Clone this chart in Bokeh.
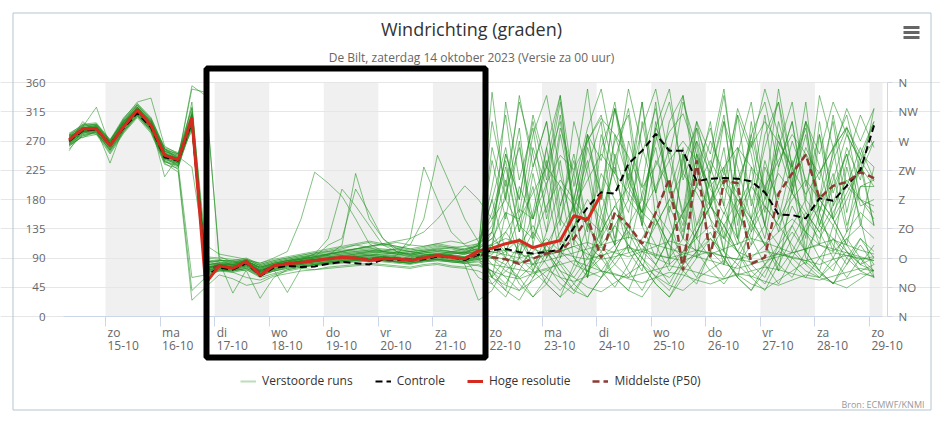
from bokeh.plotting import figure
from bokeh.models import (Range1d, LinearAxis, FixedTicker, Label, BoxAnnotation,
                          Legend, LegendItem, Grid)
from bokeh.embed import file_html
from bokeh.resources import INLINE

# ---------------- data ----------------
lead_hours = list(range(6, 361, 6))          # ECMWF 00 UTC run, 6-hourly steps
utc_offset_h = 2                              # CEST
x_days = [(h + utc_offset_h) / 24 for h in lead_hours]   # days since 14-10 00:00 local

tick_days = [1, 2, 3, 4, 5, 6, 7, 8, 9, 10, 11, 12, 13, 14, 15]
day_names = ["zo", "ma", "di", "wo", "do", "vr", "za", "zo", "ma", "di", "wo", "do", "vr", "za", "zo"]
day_dates = ["15-10", "16-10", "17-10", "18-10", "19-10", "20-10", "21-10", "22-10",
             "23-10", "24-10", "25-10", "26-10", "27-10", "28-10", "29-10"]
band_starts = [1, 3, 5, 7, 9, 11, 13, 15]

deg_ticks = [0, 45, 90, 135, 180, 225, 270, 315, 360]
compass = ["N", "NO", "O", "ZO", "Z", "ZW", "W", "NW", "N"]

hres = [272, 289, 289, 263, 292, 318, 294, 248, 241, 306, 51, 78, 74, 85, 63, 78, 81, 83, 86, 89,
        91, 90, 86, 89, 89, 86, 90, 94, 91, 89, 101, 105, 112, 117, 106, 112, 117, 155, 149, 188]

control = [270, 286, 288, 265, 290, 313, 291, 245, 240, 300, 62, 75, 72, 82, 62, 75, 78, 76, 77, 81,
           84, 82, 80, 88, 87, 86, 88, 92, 91, 87, 95, 102, 104, 99, 97, 99, 103, 137, 168, 191,
           189, 235, 255, 281, 255, 255, 208, 212, 213, 212, 208, 191, 157, 156, 151, 182, 178, 201, 225, 294]

median = [271, 287, 289, 264, 293, 317, 294, 249, 241, 302, 72, 78, 75, 82, 68, 78, 82, 84, 86, 89,
          91, 90, 88, 90, 89, 88, 91, 93, 92, 89, 96, 91, 88, 81, 89, 97, 101, 120, 152, 90,
          160, 140, 112, 160, 212, 71, 240, 91, 209, 205, 81, 91, 189, 220, 249, 182, 201, 207, 222, 213]

m01 = [270, 288, 292, 266, 296, 322, 298, 250, 236, 298, 72, 80,
       76, 86, 68, 79, 83, 85, 88, 91, 94, 92, 89, 91, 90, 87, 91, 95, 93, 90, 99,
       112, 130, 165, 150, 205, 248, 226, 270, 305, 280, 246, 198, 232, 284, 312, 250, 196, 158, 210, 262,
       300, 268, 228, 188, 222, 258, 292, 240, 208]
m02 = [265, 282, 286, 258, 288, 312, 290, 244, 232, 330, 88, 84,
       80, 84, 72, 76, 80, 82, 84, 86, 88, 86, 84, 86, 85, 84, 86, 88, 86, 84, 92,
       98, 102, 96, 90, 94, 100, 108, 96, 88, 92, 98, 104, 96, 90, 86, 94, 100, 92, 88, 84,
       90, 96, 92, 86, 80, 88, 94, 90, 86]
m03 = [280, 292, 322, 262, 300, 325, 305, 258, 244, 355, 340, 92,
       84, 80, 76, 82, 86, 90, 96, 100, 104, 110, 106, 100, 98, 96, 100, 104, 100, 98, 110,
       140, 250, 180, 300, 210, 330, 160, 270, 310, 220, 350, 260, 190, 300, 340, 230, 290, 200, 320, 260,
       350, 280, 210, 300, 250, 330, 280, 240, 300]
m04 = [268, 284, 288, 236, 292, 315, 288, 240, 226, 40, 60, 72,
       68, 60, 56, 64, 70, 74, 72, 76, 78, 80, 82, 80, 78, 76, 80, 82, 78, 76, 80,
       70, 62, 58, 66, 72, 60, 54, 62, 70, 66, 58, 52, 60, 68, 64, 56, 50, 58, 66, 62,
       54, 48, 56, 64, 60, 52, 58, 66, 62]
m05 = [274, 290, 294, 270, 304, 330, 336, 262, 250, 320, 110, 96,
       92, 88, 82, 90, 100, 150, 222, 205, 185, 150, 112, 100, 96, 92, 94, 96, 98, 100, 104,
       120, 160, 150, 190, 230, 200, 170, 210, 250, 220, 190, 160, 200, 240, 270, 240, 200, 230, 260, 230,
       200, 240, 280, 250, 220, 260, 290, 250, 230]
m06 = [262, 278, 284, 254, 284, 308, 284, 236, 222, 25, 45, 64,
       58, 48, 52, 62, 66, 70, 72, 74, 76, 78, 80, 78, 76, 74, 78, 80, 76, 74, 70,
       60, 48, 40, 55, 70, 85, 60, 45, 38, 52, 66, 80, 62, 48, 40, 58, 72, 86, 64, 50,
       42, 56, 70, 84, 66, 52, 44, 58, 72]
m07 = [278, 286, 280, 262, 296, 318, 296, 255, 246, 285, 75, 78,
       74, 82, 66, 76, 82, 84, 90, 96, 100, 104, 108, 110, 114, 110, 108, 112, 116, 112, 120,
       150, 180, 140, 120, 170, 210, 180, 150, 130, 170, 200, 160, 140, 180, 220, 190, 150, 120, 160, 200,
       170, 140, 180, 210, 180, 150, 190, 230, 200]
m08 = [270, 296, 298, 272, 300, 318, 300, 258, 240, 310, 68, 76,
       78, 88, 70, 80, 86, 88, 92, 110, 120, 196, 160, 120, 100, 94, 92, 90, 96, 98, 100,
       90, 80, 110, 140, 100, 70, 60, 90, 130, 170, 140, 100, 80, 120, 160, 200, 170, 130, 100, 140,
       180, 220, 190, 150, 120, 160, 200, 180, 160]
m09 = [266, 286, 290, 264, 290, 314, 292, 246, 240, 300, 62, 70,
       72, 78, 64, 70, 76, 80, 82, 84, 86, 88, 90, 92, 94, 120, 230, 180, 130, 110, 100,
       110, 90, 80, 100, 120, 100, 80, 70, 90, 110, 130, 110, 90, 80, 100, 120, 140, 120, 100, 90,
       110, 130, 150, 130, 110, 100, 120, 140, 120]
m10 = [276, 290, 286, 266, 298, 320, 294, 250, 244, 305, 80, 82,
       80, 84, 76, 82, 86, 88, 90, 92, 94, 96, 98, 100, 104, 110, 150, 248, 200, 150, 115,
       60, 40, 120, 90, 50, 30, 80, 140, 100, 60, 40, 90, 150, 110, 70, 50, 100, 160, 120, 80,
       60, 110, 170, 130, 90, 70, 120, 90, 70]
m11 = [272, 284, 292, 262, 295, 322, 302, 252, 238, 312, 78, 84,
       36, 72, 62, 72, 78, 82, 86, 88, 92, 96, 100, 102, 104, 100, 96, 94, 92, 90, 88,
       95, 130, 100, 80, 110, 150, 120, 90, 70, 100, 140, 180, 150, 110, 90, 130, 170, 210, 180, 140,
       110, 150, 190, 160, 130, 170, 210, 180, 150]
m12 = [268, 300, 282, 256, 286, 310, 286, 238, 230, 295, 66, 74,
       74, 70, 28, 60, 72, 76, 80, 82, 84, 86, 88, 86, 84, 82, 86, 88, 84, 82, 78,
       70, 40, 25, 60, 100, 70, 40, 30, 60, 90, 110, 80, 50, 30, 70, 100, 130, 90, 60, 40,
       80, 110, 140, 100, 70, 50, 90, 120, 90]
m13 = [282, 294, 296, 272, 306, 328, 306, 260, 252, 322, 90, 88,
       78, 80, 70, 72, 37, 74, 80, 84, 86, 88, 90, 92, 90, 88, 92, 94, 92, 90, 60,
       50, 30, 70, 110, 80, 50, 35, 70, 120, 160, 130, 90, 60, 40, 80, 130, 170, 140, 100, 70,
       50, 90, 140, 180, 150, 110, 80, 120, 100]
m14 = [264, 276, 280, 250, 282, 306, 282, 234, 228, 310, 86, 80,
       82, 86, 74, 80, 84, 86, 90, 92, 94, 96, 98, 96, 94, 92, 96, 98, 96, 80, 25,
       40, 80, 60, 30, 50, 90, 130, 100, 70, 45, 80, 120, 160, 130, 90, 60, 100, 140, 180, 150,
       110, 80, 60, 100, 140, 120, 90, 70, 80]
m15 = [276, 292, 296, 270, 302, 324, 300, 256, 250, 300, 74, 80,
       80, 82, 72, 80, 84, 88, 92, 96, 100, 104, 108, 112, 116, 120, 130, 150, 175, 201, 180,
       150, 230, 130, 260, 200, 310, 180, 280, 240, 330, 210, 160, 290, 250, 340, 200, 270, 220, 310, 170,
       260, 330, 230, 290, 180, 250, 320, 270, 320]
m16 = [270, 288, 290, 264, 294, 316, 296, 248, 244, 292, 76, 78,
       74, 78, 68, 76, 82, 86, 90, 94, 110, 220, 150, 120, 104, 100, 96, 94, 96, 98, 104,
       180, 260, 150, 230, 300, 170, 240, 130, 280, 210, 160, 250, 320, 190, 140, 270, 220, 300, 160, 110,
       230, 180, 270, 210, 140, 200, 250, 170, 180]
m17 = [272, 290, 292, 266, 296, 318, 292, 248, 240, 300, 70, 76,
       78, 82, 72, 78, 84, 88, 96, 120, 196, 170, 140, 110, 100, 96, 94, 96, 100, 104, 108,
       120, 100, 80, 60, 90, 130, 170, 140, 110, 80, 60, 100, 140, 180, 150, 120, 90, 60, 90, 130,
       170, 140, 110, 80, 60, 90, 130, 160, 140]
m18 = [268, 286, 288, 262, 292, 316, 294, 250, 242, 296, 72, 80,
       76, 80, 70, 78, 82, 84, 86, 88, 90, 92, 94, 96, 98, 100, 102, 104, 106, 108, 112,
       130, 210, 95, 160, 260, 140, 300, 220, 110, 250, 180, 330, 150, 90, 240, 290, 170, 260, 120, 200,
       310, 150, 240, 100, 280, 190, 250, 140, 230]
m19 = [255, 288, 288, 264, 294, 318, 296, 250, 240, 304, 76, 78,
       76, 84, 66, 78, 80, 82, 86, 88, 90, 92, 94, 92, 90, 88, 92, 96, 94, 90, 100,
       345, 180, 290, 120, 260, 340, 150, 230, 300, 110, 270, 200, 330, 160, 250, 90, 220, 310, 140, 280,
       190, 350, 230, 120, 300, 170, 260, 210, 320]
m20 = [266, 284, 290, 262, 292, 314, 290, 246, 238, 298, 70, 74,
       72, 76, 66, 72, 78, 80, 82, 84, 86, 88, 90, 88, 86, 84, 88, 90, 88, 86, 94,
       100, 330, 210, 290, 150, 240, 110, 280, 180, 320, 230, 140, 300, 190, 260, 120, 230, 170, 310, 250,
       140, 280, 200, 330, 160, 240, 290, 180, 170]
m21 = [278, 292, 290, 268, 300, 322, 300, 254, 246, 308, 82, 86,
       84, 88, 78, 84, 88, 92, 96, 98, 100, 102, 104, 102, 100, 98, 102, 106, 104, 100, 108,
       110, 120, 112, 104, 96, 100, 108, 114, 106, 98, 92, 100, 108, 116, 110, 102, 96, 104, 112, 120,
       114, 106, 98, 104, 112, 118, 110, 102, 96]
m22 = [258, 280, 284, 256, 286, 310, 288, 242, 234, 292, 64, 72,
       70, 74, 62, 70, 74, 78, 80, 82, 84, 86, 88, 86, 84, 82, 84, 86, 84, 82, 86,
       80, 76, 72, 68, 74, 80, 86, 78, 70, 64, 60, 66, 72, 78, 74, 68, 62, 58, 64, 70,
       76, 72, 66, 60, 56, 62, 68, 74, 70]
m23 = [270, 286, 288, 262, 292, 316, 292, 246, 238, 300, 74, 78,
       78, 82, 70, 78, 82, 86, 88, 90, 92, 94, 96, 94, 92, 90, 94, 96, 94, 92, 98,
       60, 90, 50, 30, 60, 100, 140, 180, 150, 110, 70, 40, 80, 120, 160, 200, 240, 200, 160, 120,
       80, 50, 90, 130, 170, 140, 100, 70, 60]
m24 = [276, 290, 294, 268, 300, 322, 298, 252, 244, 302, 80, 80,
       80, 86, 74, 80, 86, 88, 92, 94, 96, 98, 100, 98, 96, 94, 98, 100, 98, 96, 102,
       200, 310, 160, 280, 340, 220, 130, 260, 190, 320, 240, 150, 290, 350, 210, 270, 170, 230, 120, 300,
       180, 260, 330, 200, 280, 150, 240, 310, 260]
m25 = [264, 282, 286, 260, 288, 312, 290, 244, 236, 296, 70, 76,
       74, 78, 70, 74, 78, 80, 82, 84, 86, 88, 88, 86, 84, 82, 86, 88, 86, 84, 88,
       90, 100, 120, 80, 60, 40, 70, 110, 90, 60, 40, 30, 60, 90, 120, 100, 70, 50, 80, 110,
       140, 110, 80, 60, 90, 120, 100, 80, 90]
m26 = [280, 275, 286, 264, 298, 320, 296, 254, 248, 315, 84, 86,
       86, 82, 80, 86, 90, 94, 98, 102, 106, 110, 114, 110, 106, 102, 106, 110, 106, 102, 110,
       130, 90, 200, 150, 240, 110, 170, 60, 190, 120, 230, 160, 280, 200, 130, 250, 100, 80, 170, 210,
       140, 260, 190, 300, 230, 150, 110, 200, 210]
m27 = [272, 288, 290, 264, 296, 318, 294, 250, 240, 302, 74, 80,
       80, 84, 76, 80, 84, 88, 92, 96, 100, 104, 108, 112, 108, 104, 100, 96, 92, 96, 100,
       92, 88, 84, 80, 86, 92, 98, 104, 110, 116, 122, 116, 110, 104, 98, 92, 86, 80, 74, 80,
       86, 92, 98, 104, 110, 104, 98, 92, 86]
m28 = [268, 284, 286, 260, 290, 314, 290, 244, 236, 294, 68, 74,
       72, 76, 68, 74, 78, 80, 84, 86, 88, 90, 92, 90, 88, 86, 90, 92, 90, 88, 92,
       60, 160, 90, 220, 130, 280, 170, 60, 140, 240, 100, 190, 260, 150, 80, 210, 300, 170, 110, 230,
       140, 70, 200, 280, 160, 100, 230, 150, 60]
m29 = [274, 286, 292, 266, 294, 320, 298, 252, 242, 306, 76, 82,
       82, 86, 74, 82, 86, 90, 94, 96, 98, 100, 102, 100, 98, 96, 100, 102, 100, 98, 104,
       300, 200, 330, 250, 160, 290, 220, 350, 180, 270, 310, 140, 240, 200, 330, 260, 170, 300, 230, 150,
       280, 330, 190, 260, 210, 300, 160, 250, 300]
m30 = [266, 282, 288, 258, 290, 312, 288, 242, 234, 298, 68, 72,
       70, 74, 64, 70, 74, 78, 80, 82, 84, 86, 88, 86, 84, 82, 86, 88, 86, 84, 90,
       50, 70, 90, 70, 50, 30, 50, 80, 110, 140, 110, 80, 50, 30, 60, 90, 120, 90, 60, 40,
       70, 100, 130, 100, 70, 50, 80, 110, 80]
m31 = [278, 294, 296, 270, 302, 326, 304, 258, 248, 310, 84, 86,
       86, 90, 80, 86, 90, 94, 98, 100, 102, 104, 106, 104, 102, 100, 104, 108, 106, 102, 110,
       160, 240, 130, 200, 90, 170, 250, 140, 220, 180, 100, 70, 160, 210, 120, 230, 150, 80, 190, 130,
       240, 170, 100, 80, 160, 220, 130, 240, 140]
m32 = [270, 286, 290, 262, 294, 316, 294, 248, 240, 300, 72, 78,
       76, 80, 70, 76, 80, 84, 86, 88, 90, 92, 94, 92, 90, 88, 92, 94, 92, 90, 96,
       240, 150, 270, 110, 200, 90, 180, 280, 160, 230, 120, 300, 190, 80, 250, 140, 210, 100, 260, 180,
       120, 230, 300, 170, 110, 260, 140, 200, 200]
m33 = [276, 288, 286, 266, 298, 320, 296, 215, 246, 230, 92, 90,
       88, 86, 82, 88, 92, 96, 100, 104, 108, 112, 116, 112, 108, 104, 108, 112, 108, 104, 112,
       180, 100, 150, 70, 130, 200, 90, 60, 160, 110, 220, 140, 90, 170, 120, 250, 180, 100, 60, 150,
       200, 130, 210, 90, 70, 140, 180, 230, 140]
m34 = [262, 278, 282, 252, 284, 308, 286, 238, 232, 60, 64, 70,
       68, 72, 60, 66, 72, 76, 78, 80, 82, 84, 86, 84, 82, 80, 84, 86, 84, 82, 84,
       70, 50, 90, 130, 100, 60, 40, 70, 100, 140, 180, 150, 110, 70, 100, 140, 180, 220, 190, 150,
       110, 70, 100, 140, 180, 150, 110, 80, 110]
m35 = [272, 290, 294, 268, 298, 322, 300, 254, 244, 350, 345, 88,
       82, 86, 76, 82, 86, 90, 92, 94, 96, 98, 100, 98, 96, 94, 98, 100, 98, 96, 100,
       90, 70, 60, 80, 100, 120, 90, 70, 60, 80, 110, 90, 70, 60, 80, 100, 120, 100, 80, 60,
       80, 100, 90, 70, 60, 80, 100, 80, 70]
m36 = [268, 284, 288, 262, 292, 316, 292, 246, 238, 298, 72, 76,
       74, 78, 70, 76, 80, 82, 84, 88, 90, 92, 94, 92, 90, 88, 90, 92, 90, 88, 92,
       130, 250, 180, 310, 230, 340, 200, 290, 350, 240, 320, 180, 270, 330, 220, 300, 250, 350, 190, 280,
       330, 230, 300, 180, 340, 260, 310, 220, 270]
m37 = [280, 296, 292, 270, 304, 326, 302, 258, 250, 312, 80, 82,
       84, 88, 78, 84, 88, 92, 94, 96, 98, 100, 102, 100, 98, 96, 100, 102, 100, 98, 106,
       80, 60, 40, 70, 110, 80, 50, 30, 60, 100, 140, 110, 80, 50, 90, 130, 170, 140, 100, 60,
       40, 80, 120, 160, 130, 90, 60, 90, 60]
m38 = [264, 280, 284, 256, 286, 310, 286, 240, 232, 290, 66, 72,
       70, 74, 66, 72, 76, 78, 80, 82, 84, 86, 88, 86, 84, 82, 86, 88, 86, 84, 88,
       110, 190, 260, 150, 230, 300, 170, 240, 120, 280, 210, 330, 190, 260, 150, 290, 230, 340, 200, 270,
       160, 300, 220, 250, 180, 310, 200, 260, 210]
m39 = [274, 288, 290, 266, 296, 318, 296, 250, 242, 304, 76, 80,
       78, 82, 72, 78, 82, 86, 88, 90, 92, 94, 96, 94, 92, 90, 94, 96, 94, 92, 98,
       100, 95, 90, 96, 102, 98, 92, 88, 94, 100, 106, 100, 94, 90, 96, 102, 98, 92, 88, 94,
       100, 96, 90, 86, 92, 98, 94, 88, 92]
m40 = [270, 284, 288, 260, 290, 314, 290, 244, 236, 296, 70, 76,
       76, 80, 68, 74, 78, 82, 84, 86, 88, 90, 92, 90, 88, 86, 88, 90, 88, 86, 90,
       260, 180, 340, 230, 300, 150, 220, 110, 260, 320, 200, 290, 350, 240, 160, 300, 210, 120, 250, 330,
       190, 270, 230, 300, 140, 210, 280, 240, 270]

members = [m01, m02, m03, m04, m05, m06, m07, m08, m09, m10, m11, m12, m13, m14, m15, m16, m17, m18, m19, m20,
           m21, m22, m23, m24, m25, m26, m27, m28, m29, m30, m31, m32, m33, m34, m35, m36, m37, m38, m39, m40]
for k, m in enumerate(members):
    assert len(m) == len(x_days), (k + 1, len(m))

# ---------------- layout (pixels) ----------------
W, H = 940, 418                    # canvas = frame (no side panels)
PX_DAY = 54.57                     # pixels per day
DAY1_PX = 105                      # pixel of 15-10 00:00
ZERO_PX, TOP_PX = 316, 82          # pixel rows of 0 and 360 degrees
DEG_PX = 360 / (ZERO_PX - TOP_PX)


def day_at(px):
    return 1 + (px - DAY1_PX) / PX_DAY


def sy(py):                        # screen y (from frame bottom) for a pixel row
    return H - py


x_lo, x_hi = day_at(63), day_at(882)          # plot area
FONT = "Open Sans"

p = figure(width=W, height=H, min_border=0,
           x_range=Range1d(day_at(0), day_at(W)),
           y_range=Range1d((ZERO_PX - H) * DEG_PX, ZERO_PX * DEG_PX),
           x_axis_location=None, y_axis_location=None, title=None,
           output_backend="svg", toolbar_location=None,
           background_fill_color="white", border_fill_color="white")
p.outline_line_color = None
for g in p.grid:
    g.visible = False

# alternating day bands
for s in band_starts:
    p.add_layout(BoxAnnotation(left=s, right=min(s + 1, x_hi), bottom=deg_ticks[0], top=deg_ticks[-1],
                               fill_color="#f0f0f0", fill_alpha=1.0, line_color=None, level="image"))

p.add_layout(Grid(dimension=1, ticker=FixedTicker(ticks=deg_ticks), bounds=(x_lo, x_hi),
                  grid_line_color="#e6e6e6", level="underlay"))

# left axis
yl = LinearAxis(ticker=FixedTicker(ticks=deg_ticks), fixed_location=x_lo, bounds=(0, 360))
yl.axis_line_color = None
yl.major_tick_line_color = None
yl.minor_tick_line_color = None
yl.major_label_standoff = 12
yl.major_label_text_font = FONT
yl.major_label_text_font_size = "11.5px"
yl.major_label_text_color = "#666666"
p.add_layout(yl, "left")

# right axis (compass)
yr = LinearAxis(ticker=FixedTicker(ticks=deg_ticks), fixed_location=day_at(887), bounds=(0, 360),
                major_label_overrides={t: c for t, c in zip(deg_ticks, compass)})
yr.axis_line_color = "#ccd6eb"
yr.major_tick_line_color = "#ccd6eb"
yr.major_tick_in = 0
yr.major_tick_out = 5
yr.minor_tick_line_color = None
yr.major_label_standoff = 6
yr.major_label_text_font = FONT
yr.major_label_text_font_size = "11.5px"
yr.major_label_text_color = "#666666"
p.add_layout(yr, "right")

# x axis: tick marks, labels as left-aligned labels
xa = LinearAxis(ticker=FixedTicker(ticks=tick_days), fixed_location=0, bounds=(x_lo, x_hi),
                major_label_overrides={t: "" for t in tick_days})
xa.major_label_text_font_size = "0px"
xa.axis_line_color = "#ccd6eb"
xa.major_tick_line_color = "#ccd6eb"
xa.major_tick_in = 0
xa.major_tick_out = 10
xa.minor_tick_line_color = None
p.add_layout(xa, "below")

for pos, dn, dt in zip(tick_days, day_names, day_dates):
    p.add_layout(Label(x=pos, y=sy(332), x_units="data", y_units="screen", x_offset=2, text=dn,
                       text_align="left", text_baseline="middle", text_font=FONT,
                       text_font_size="12px", text_color="#666666"))
    p.add_layout(Label(x=pos, y=sy(345), x_units="data", y_units="screen", x_offset=2, text=dt,
                       text_align="left", text_baseline="middle", text_font=FONT,
                       text_font_size="12px", text_color="#666666"))

# series
ens = p.multi_line(xs=[x_days] * len(members), ys=members, line_color="#1f8f1f",
                   line_alpha=0.55, line_width=1)
r_ctrl = p.line(x_days, control, line_color="black", line_width=2, line_dash="7 4")
r_med = p.line(x_days, median, line_color="#8e3a32", line_width=2.5, line_dash="7 4")
r_hres = p.line(x_days[:len(hres)], hres, line_color="#d42b1e", line_width=3)
# legend proxy for the perturbed runs (a single undefined point: draws nothing in the plot)
r_ens_leg = p.line([float("nan")], [float("nan")], line_color="#1f8f1f", line_alpha=0.3, line_width=2)

legend = Legend(items=[LegendItem(label="Verstoorde runs", renderers=[r_ens_leg]),
                       LegendItem(label="Controle", renderers=[r_ctrl]),
                       LegendItem(label="Hoge resolutie", renderers=[r_hres]),
                       LegendItem(label="Middelste (P50)", renderers=[r_med])],
                location=(240, sy(389)), orientation="horizontal",
                glyph_width=16, glyph_height=14, label_standoff=6, spacing=22,
                padding=0, margin=0, border_line_color=None, background_fill_alpha=0,
                label_text_font=FONT, label_text_font_size="12px", label_text_color="#333333",
                label_height=14)
p.add_layout(legend)

# titles and credits
p.add_layout(Label(x=471, y=sy(28), x_units="screen", y_units="screen", text="Windrichting (graden)",
                   text_align="center", text_baseline="middle", text_font=FONT,
                   text_font_size="18px", text_color="#333333"))
p.add_layout(Label(x=471, y=sy(57), x_units="screen", y_units="screen",
                   text="De Bilt, zaterdag 14 oktober 2023 (Versie za 00 uur)",
                   text_align="center", text_baseline="middle", text_font=FONT,
                   text_font_size="12px", text_color="#666666"))
p.add_layout(Label(x=924, y=sy(404), x_units="screen", y_units="screen", text="Bron: ECMWF/KNMI",
                   text_align="right", text_baseline="middle", text_font=FONT,
                   text_font_size="9px", text_color="#999999"))

# chart container border
p.add_layout(BoxAnnotation(left=12.5, right=930.5, bottom=sy(409.5), top=sy(12.5),
                           left_units="screen", right_units="screen",
                           bottom_units="screen", top_units="screen",
                           fill_alpha=0, line_color="#b3c5d3", line_alpha=1, line_width=1))
# highlight rectangle
p.add_layout(BoxAnnotation(left=206, right=485, bottom=sy(357), top=sy(68),
                           left_units="screen", right_units="screen",
                           bottom_units="screen", top_units="screen",
                           fill_alpha=0, line_color="black", line_alpha=1, line_width=6))
# menu icon
for bar_top in [25.5, 30.5, 35.5]:
    p.add_layout(BoxAnnotation(left=903, right=919, bottom=sy(bar_top + 3), top=sy(bar_top),
                               left_units="screen", right_units="screen",
                               bottom_units="screen", top_units="screen",
                               fill_color="#666666", fill_alpha=1, line_color=None))

open("out.html", "w").write(file_html(p, INLINE))
